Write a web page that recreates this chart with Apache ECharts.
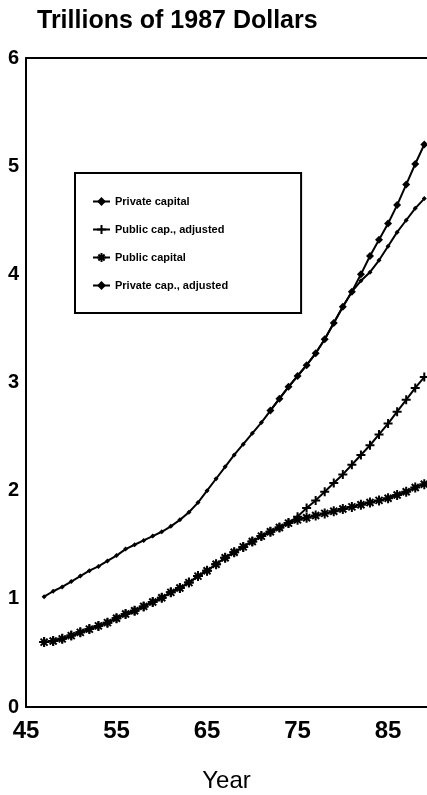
<!DOCTYPE html>
<html>
<head>
<meta charset="utf-8">
<script src="https://cdn.jsdelivr.net/npm/echarts@6/dist/echarts.min.js"></script>
<style>html,body{margin:0;padding:0;background:#fff;}#c{width:427px;height:795px;}</style>
</head>
<body>
<div id="c"></div>
<script>
const years = [47,48,49,50,51,52,53,54,55,56,57,58,59,60,61,62,63,64,65,66,67,68,69,70,71,72,73,74,75,76,77,78,79,80,81,82,83,84,85,86,87,88,89];
const privateCapital = [1.02,1.07,1.11,1.16,1.21,1.26,1.30,1.35,1.40,1.46,1.50,1.54,1.58,1.62,1.67,1.73,1.80,1.89,2.00,2.11,2.22,2.33,2.43,2.53,2.63,2.74,2.85,2.96,3.06,3.16,3.27,3.40,3.55,3.70,3.84,3.94,4.02,4.13,4.26,4.39,4.50,4.61,4.70];
const privateAdjYears = [72,73,74,75,76,77,78,79,80,81,82,83,84,85,86,87,88,89];
const privateAdjusted = [2.74,2.85,2.96,3.06,3.16,3.27,3.40,3.55,3.70,3.84,4.00,4.17,4.32,4.47,4.64,4.83,5.02,5.20];
const publicCapital = [0.60,0.61,0.63,0.66,0.69,0.72,0.75,0.78,0.82,0.86,0.89,0.93,0.97,1.01,1.06,1.10,1.15,1.21,1.26,1.32,1.38,1.43,1.48,1.53,1.58,1.62,1.66,1.70,1.73,1.75,1.77,1.79,1.81,1.83,1.85,1.87,1.89,1.91,1.93,1.96,1.99,2.03,2.06];
const publicAdjusted = [0.60,0.61,0.63,0.66,0.69,0.72,0.75,0.78,0.82,0.86,0.89,0.93,0.97,1.01,1.06,1.10,1.15,1.21,1.26,1.32,1.38,1.43,1.48,1.53,1.58,1.62,1.66,1.70,1.76,1.84,1.91,1.99,2.07,2.15,2.24,2.33,2.42,2.52,2.62,2.73,2.84,2.95,3.05];
const xTicks = [45,55,65,75,85];
const yTicks = [0,1,2,3,4,5,6];

const pairs = (xs, ys) => xs.map((x,i)=>[x, ys[i]]);
const plusPath = 'path://M0,5L10,5M5,0L5,10';
const starPath = 'path://M0,5L10,5M5,0L5,10M1.5,1.5L8.5,8.5M8.5,1.5L1.5,8.5';
const FONT = '"Liberation Sans", Arial, sans-serif';

const chart = echarts.init(document.getElementById('c'), null, {renderer:'canvas'});
chart.setOption({
  animation:false,
  backgroundColor:'#fff',
  title:{text:'Trillions of 1987 Dollars', left:32, top:4,
    textStyle:{fontFamily:FONT, fontSize:25, fontWeight:'bold', color:'#000'}},
  grid:{left:26, right:0, top:58, bottom:88, containLabel:false, outerBoundsMode:'none'},
  legend:{
    orient:'vertical', left:75, top:173,
    padding:[23,73,22,17], itemGap:17, itemWidth:17, itemHeight:11,
    borderColor:'#000', borderWidth:2, backgroundColor:'#fff',
    textStyle:{fontFamily:FONT, fontSize:11, fontWeight:'bold', color:'#000'},
    data:['Private capital','Public cap., adjusted','Public capital','Private cap., adjusted']
  },
  xAxis:[{
    type:'value', min:45, max:89.3, interval:10, position:'bottom',
    name:'Year', nameLocation:'middle', nameGap:62,
    nameTextStyle:{fontFamily:FONT, fontSize:24, color:'#000'},
    axisLine:{show:true, lineStyle:{color:'#000', width:2}},
    axisTick:{show:false}, splitLine:{show:false},
    axisLabel:{showMaxLabel:false, fontFamily:FONT, fontSize:24, fontWeight:'bold', color:'#000', margin:12,
      formatter:v=> xTicks.includes(v) ? String(v) : ''}
  },{
    type:'value', min:45, max:89.3, position:'top',
    axisLine:{show:true, lineStyle:{color:'#000', width:2}},
    axisTick:{show:false}, axisLabel:{show:false}, splitLine:{show:false}
  }],
  yAxis:{
    type:'value', min:0, max:6, interval:1,
    axisLine:{show:true, lineStyle:{color:'#000', width:2}},
    axisTick:{show:false}, splitLine:{show:false},
    axisLabel:{fontFamily:FONT, fontSize:20, fontWeight:'bold', color:'#000', margin:7,
      formatter:v=> yTicks.includes(v) ? String(v) : ''}
  },
  series:[
    {name:'Public cap., adjusted', type:'line', data:pairs(years, publicAdjusted),
      symbol:plusPath, symbolSize:9, showAllSymbol:true,
      lineStyle:{color:'#000', width:2}, itemStyle:{color:'#000', borderColor:'#000', borderWidth:2}},
    {name:'Public capital', type:'line', data:pairs(years, publicCapital),
      symbol:starPath, symbolSize:10, showAllSymbol:true,
      lineStyle:{color:'#000', width:2}, itemStyle:{color:'#000', borderColor:'#000', borderWidth:2}},
    {name:'Private capital', type:'line', data:pairs(years, privateCapital),
      symbol:'diamond', symbolSize:5, showAllSymbol:true,
      lineStyle:{color:'#000', width:2}, itemStyle:{color:'#000', borderWidth:0}},
    {name:'Private cap., adjusted', type:'line', data:pairs(privateAdjYears, privateAdjusted),
      symbol:'diamond', symbolSize:8, showAllSymbol:true,
      lineStyle:{color:'#000', width:2}, itemStyle:{color:'#000', borderWidth:0}}
  ]
});
</script>
</body>
</html>
